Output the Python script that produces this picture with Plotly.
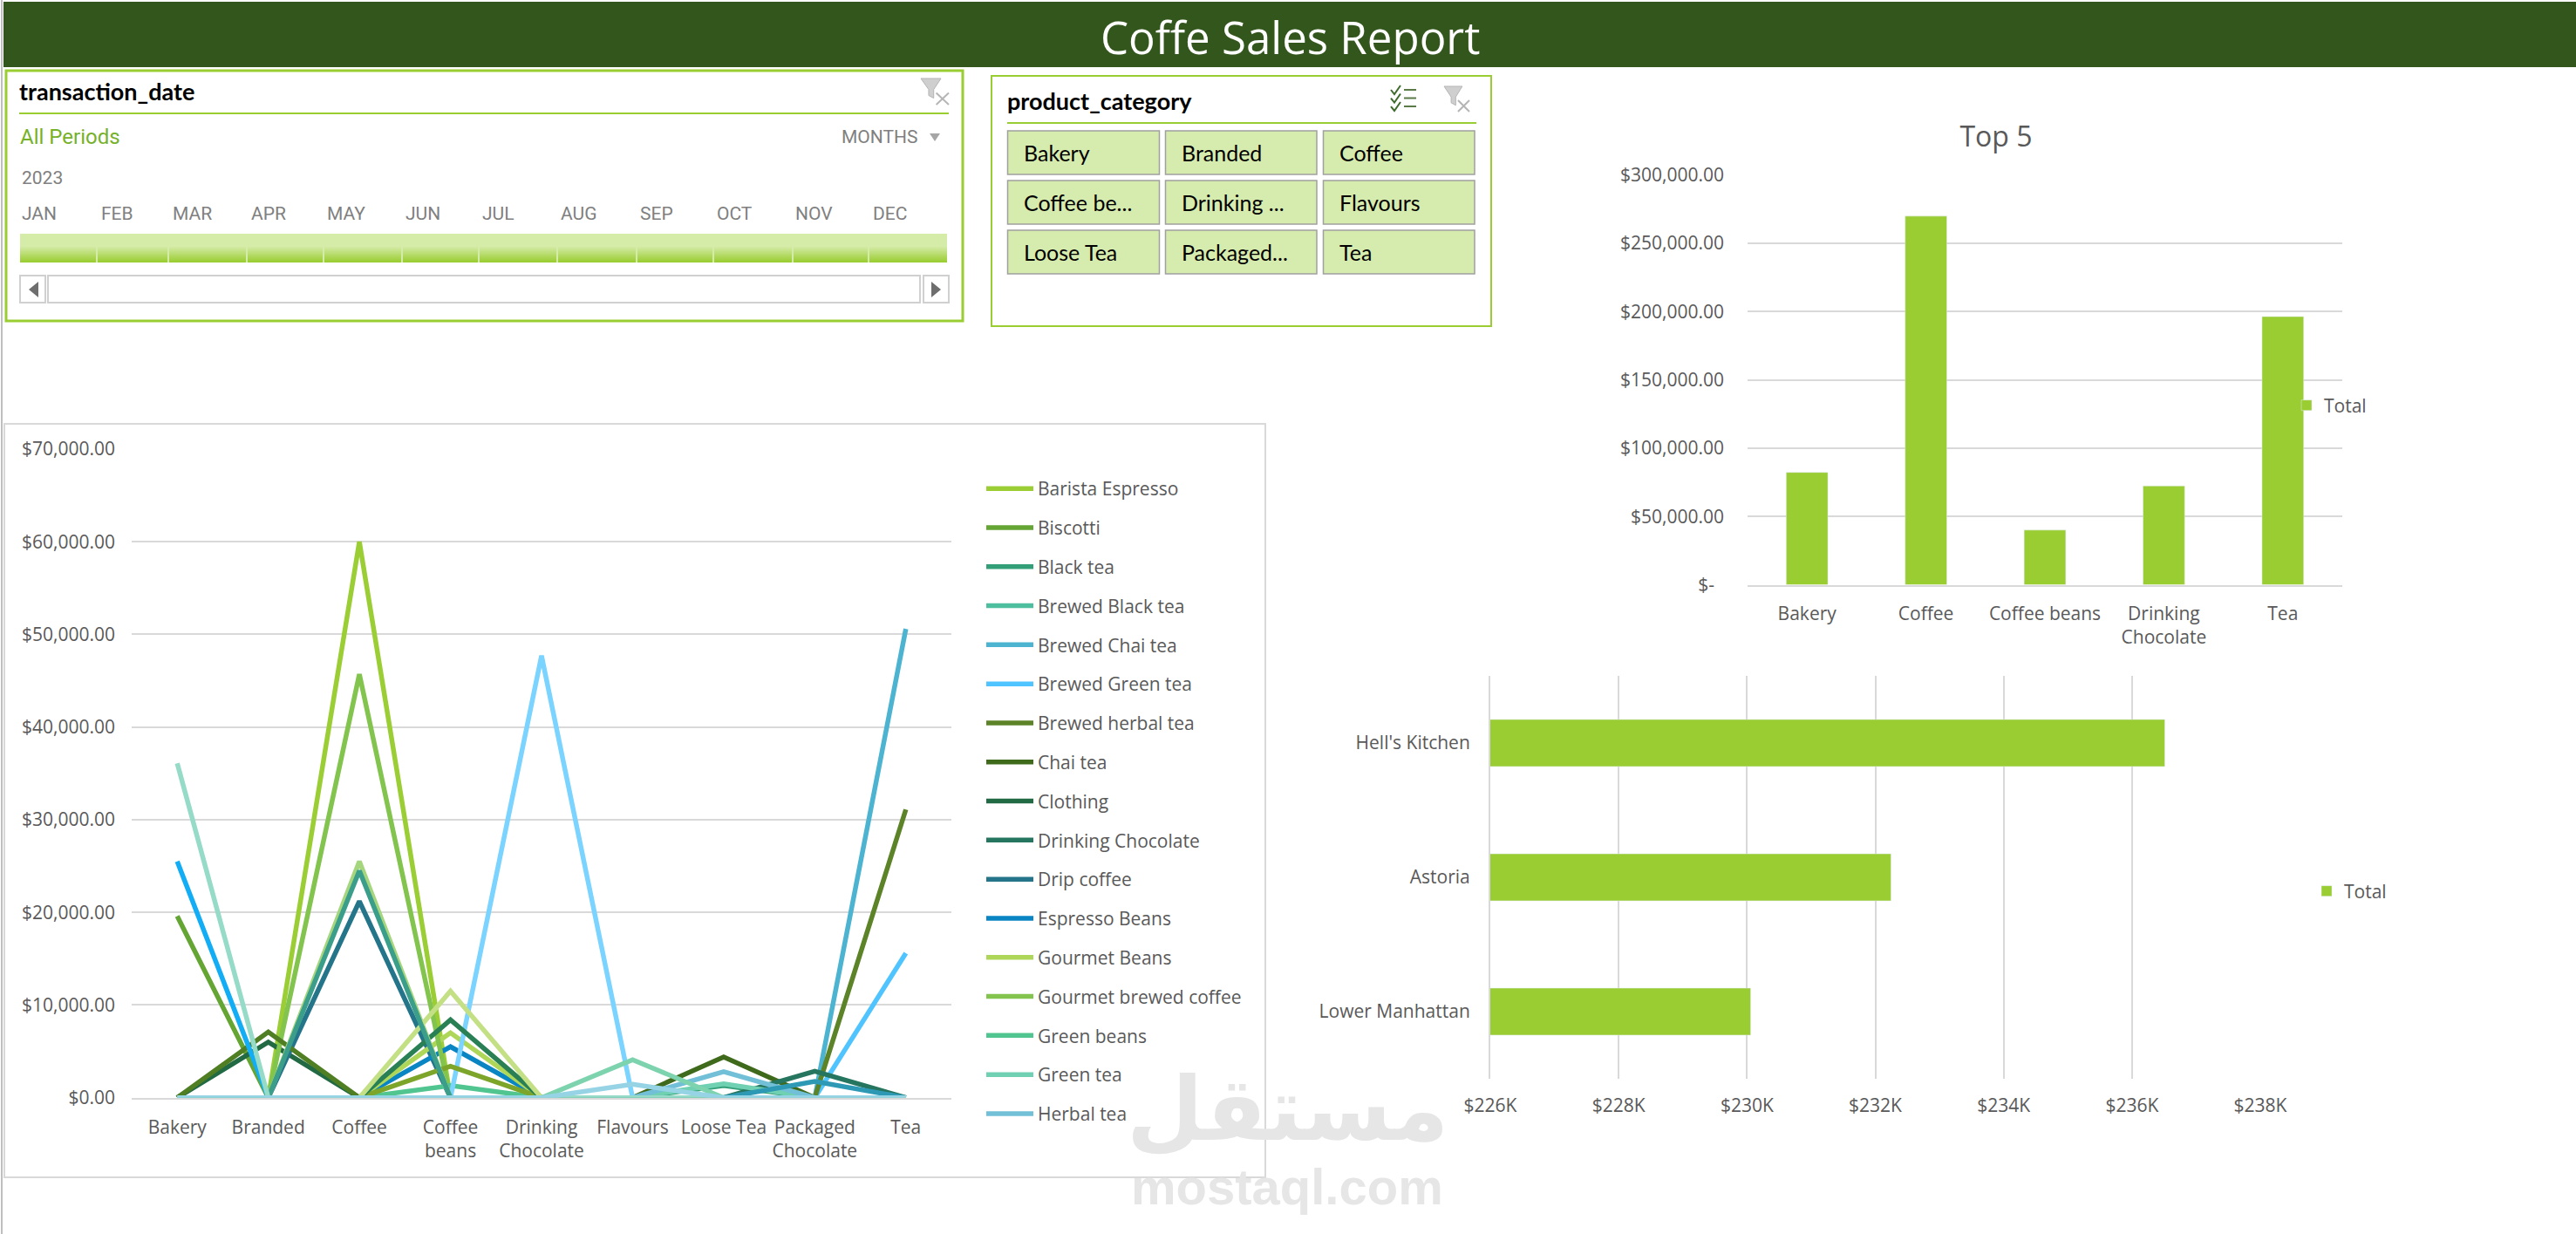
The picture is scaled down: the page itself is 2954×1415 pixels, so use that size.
import plotly.graph_objects as go

W, H = 2954, 1415

# ---------- data ----------
categories = ["Bakery", "Branded", "Coffee", "Coffee beans", "Drinking Chocolate",
              "Flavours", "Loose Tea", "Packaged Chocolate", "Tea"]
category_labels = ["Bakery", "Branded", "Coffee", "Coffee<br>beans", "Drinking<br>Chocolate",
                   "Flavours", "Loose Tea", "Packaged<br>Chocolate", "Tea"]

barista_espresso   = [0, 0, 60000, 0, 0, 0, 0, 0, 0]
biscotti           = [19600, 0, 0, 0, 0, 0, 0, 0, 0]
black_tea          = [0, 0, 0, 0, 0, 0, 1300, 0, 0]
brewed_black_tea   = [0, 0, 0, 0, 0, 0, 0, 0, 0]
brewed_chai_tea    = [0, 0, 0, 0, 0, 0, 0, 0, 50600]
brewed_green_tea   = [0, 0, 0, 0, 0, 0, 0, 0, 15600]
brewed_herbal_tea  = [0, 0, 0, 0, 0, 0, 0, 0, 31100]
chai_tea           = [0, 0, 0, 0, 0, 0, 4400, 0, 0]
clothing           = [0, 6000, 0, 0, 0, 0, 0, 0, 0]
drinking_chocolate = [0, 0, 0, 0, 0, 0, 0, 2850, 0]
drip_coffee        = [0, 0, 21200, 0, 0, 0, 0, 0, 0]
espresso_beans     = [0, 0, 0, 5500, 0, 0, 0, 0, 0]
gourmet_beans      = [0, 0, 0, 7000, 0, 0, 0, 0, 0]
gourmet_brewed     = [0, 0, 45700, 0, 0, 0, 0, 0, 0]
green_beans        = [0, 0, 0, 1300, 0, 0, 0, 0, 0]
green_tea          = [0, 0, 0, 0, 0, 0, 1500, 0, 0]
herbal_tea         = [0, 0, 0, 0, 0, 0, 2800, 0, 0]
hot_chocolate      = [0, 0, 0, 0, 47700, 0, 0, 0, 0]
house_blend_beans  = [0, 0, 0, 3400, 0, 0, 0, 0, 0]
housewares         = [0, 7100, 0, 0, 0, 0, 0, 0, 0]
organic_beans      = [0, 0, 0, 8400, 0, 0, 0, 0, 0]
organic_brewed     = [0, 0, 25500, 0, 0, 0, 0, 0, 0]
organic_chocolate  = [0, 0, 0, 0, 0, 0, 0, 1750, 0]
pastry             = [25500, 0, 0, 0, 0, 0, 0, 0, 0]
premium_beans      = [0, 0, 0, 11500, 0, 0, 0, 0, 0]
premium_brewed     = [0, 0, 24500, 0, 0, 0, 0, 0, 0]
regular_syrup      = [0, 0, 0, 0, 0, 4100, 0, 0, 0]
scone              = [36100, 0, 0, 0, 0, 0, 0, 0, 0]
sugar_free_syrup   = [0, 0, 0, 0, 0, 1450, 0, 0, 0]

series = [
    ("Barista Espresso", barista_espresso, "#9BCE35"),
    ("Biscotti", biscotti, "#64A533"),
    ("Black tea", black_tea, "#339F78"),
    ("Brewed Black tea", brewed_black_tea, "#4DBF9F"),
    ("Brewed Chai tea", brewed_chai_tea, "#4CB3D1"),
    ("Brewed Green tea", brewed_green_tea, "#50C4FF"),
    ("Brewed herbal tea", brewed_herbal_tea, "#5C8327"),
    ("Chai tea", chai_tea, "#3F6A1C"),
    ("Clothing", clothing, "#226A44"),
    ("Drinking Chocolate", drinking_chocolate, "#26755F"),
    ("Drip coffee", drip_coffee, "#24748A"),
    ("Espresso Beans", espresso_beans, "#0A85C4"),
    ("Gourmet Beans", gourmet_beans, "#AED75A"),
    ("Gourmet brewed coffee", gourmet_brewed, "#82C44D"),
    ("Green beans", green_beans, "#50C590"),
    ("Green tea", green_tea, "#6FD0B2"),
    ("Herbal tea", herbal_tea, "#72BFD8"),
    ("Hot chocolate", hot_chocolate, "#7BD3FF"),
    ("House blend Beans", house_blend_beans, "#7DA52A"),
    ("Housewares", housewares, "#4F7F22"),
    ("Organic Beans", organic_beans, "#2A8055"),
    ("Organic brewed coffee", organic_brewed, "#A5D67E"),
    ("Organic Chocolate", organic_chocolate, "#2E99B5"),
    ("Pastry", pastry, "#12ADF5"),
    ("Premium Beans", premium_beans, "#C4E085"),
    ("Premium brewed coffee", premium_brewed, "#3A9E8B"),
    ("Regular syrup", regular_syrup, "#7DD3AE"),
    ("Scone", scone, "#96DBC7"),
    ("Sugar free syrup", sugar_free_syrup, "#96D3E5"),
]
legend_visible = 17

line_ticks = [0, 10000, 20000, 30000, 40000, 50000, 60000, 70000]

top5_categories = ["Bakery", "Coffee", "Coffee beans", "Drinking Chocolate", "Tea"]
top5_labels = ["Bakery", "Coffee", "Coffee beans", "Drinking<br>Chocolate", "Tea"]
top5_values = [82316, 269952, 40085, 72416, 196406]
top5_ticks = [0, 50000, 100000, 150000, 200000, 250000, 300000]
top5_ticktext = ["$-\u00a0\u00a0", "$50,000.00", "$100,000.00", "$150,000.00",
                 "$200,000.00", "$250,000.00", "$300,000.00"]

store_names = ["Lower Manhattan", "Astoria", "Hell's Kitchen"]
store_values = [230057, 232244, 236511]
store_ticks = [226000, 228000, 230000, 232000, 234000, 236000, 238000]
store_ticktext = ["$226K", "$228K", "$230K", "$232K", "$234K", "$236K", "$238K"]

months = ["JAN", "FEB", "MAR", "APR", "MAY", "JUN", "JUL", "AUG", "SEP", "OCT", "NOV", "DEC"]
slicer_buttons = ["Bakery", "Branded", "Coffee", "Coffee be...", "Drinking ...", "Flavours",
                  "Loose Tea", "Packaged...", "Tea"]

# ---------- helpers ----------
GREEN = "#9ACD32"
GRID = "#D9D9D9"
TEXT = "#595959"
UI = "Open Sans"
SL = "Lato"
MON = "Roboto"

def X(p): return p / W
def Y(p): return 1 - p / H

shapes, annotations = [], []

def rect(x0, y0, x1, y1, fill=None, line=None, lw=0):
    shapes.append(dict(type="rect", xref="paper", yref="paper",
                       x0=X(x0), x1=X(x1), y0=Y(y1), y1=Y(y0),
                       fillcolor=fill if fill else "rgba(0,0,0,0)",
                       line=dict(color=line if line else "rgba(0,0,0,0)", width=lw)))

def seg(x0, y0, x1, y1, color, lw=1):
    shapes.append(dict(type="line", xref="paper", yref="paper",
                       x0=X(x0), x1=X(x1), y0=Y(y0), y1=Y(y1),
                       line=dict(color=color, width=lw)))

def poly(points, fill=None, line=None, lw=1, close=True):
    d = "M" + " L".join(f"{X(a):.5f},{Y(b):.5f}" for a, b in points) + (" Z" if close else "")
    shapes.append(dict(type="path", xref="paper", yref="paper", path=d,
                       fillcolor=fill if fill else "rgba(0,0,0,0)",
                       line=dict(color=line if line else "rgba(0,0,0,0)", width=lw)))

def label(x, y, text, size, color="#000000", family=SL, anchor="left", bold=False):
    t = f"<b>{text}</b>" if bold else text
    annotations.append(dict(xref="paper", yref="paper", x=X(x), y=Y(y), text=t, showarrow=False,
                            xanchor=anchor, yanchor="middle", align=anchor,
                            font=dict(size=size, color=color, family=family),
                            borderpad=0, borderwidth=0))

def lerp(c0, c1, t):
    a = [int(c0[i:i+2], 16) for i in (1, 3, 5)]
    b = [int(c1[i:i+2], 16) for i in (1, 3, 5)]
    return "#" + "".join(f"{round(u + (v - u) * t):02X}" for u, v in zip(a, b))

def clear_filter_icon(x0, y0, w, h):
    poly([(x0, y0), (x0 + w * .72, y0), (x0 + w * .46, y0 + h * .42), (x0 + w * .46, y0 + h * .75),
          (x0 + w * .28, y0 + h * .65), (x0 + w * .28, y0 + h * .42)], fill="#CFCFCF", line="#B5B5B5", lw=1)
    seg(x0 + w * .55, y0 + h * .55, x0 + w, y0 + h, "#B5B5B5", 2)
    seg(x0 + w, y0 + h * .55, x0 + w * .55, y0 + h, "#B5B5B5", 2)

# ---------- header and sheet edges ----------
seg(2, 0, 2, H, "#BFBFBF", 2)
rect(4, 2, W, 77, fill="#33561C")
label(1479, 42, "Coffe Sales Report", 51, "#FFFFFF", UI, "center")

# ---------- timeline slicer ----------
rect(7, 81, 1104, 368, line=GREEN, lw=3)
label(22, 105, "transaction_date", 27, "#000000", SL, bold=True)
seg(22, 130, 1088, 130, GREEN, 2)
clear_filter_icon(1056, 90, 32, 30)
label(23, 157, "All Periods", 24, "#76B12A", MON)
label(965, 157, "MONTHS", 21, "#808080", MON)
poly([(1066, 153), (1078, 153), (1072, 162)], fill="#A6A6A6")
label(25, 204, "2023", 21, "#808080", MON)
month_left = [25, 116, 198, 288, 375, 465, 553, 643, 734, 822, 912, 1001]
for m, xp in zip(months, month_left):
    label(xp, 245, m, 21, "#808080", MON)
rect(23, 268, 1086, 283, fill="#D5EBA8")
for i in range(18):
    rect(23, 283 + i, 1086, 284 + i, fill=lerp("#D5EBA8", GREEN, (i + 1) / 18))
for xp in [111, 193, 283, 371, 461, 549, 639, 730, 818, 909, 996]:
    seg(xp, 268, xp, 301, "#D5EBA8", 2)
rect(23, 316, 52, 347, fill="#FFFFFF", line="#D0D0D0", lw=2)
rect(55, 316, 1055, 347, fill="#FFFFFF", line="#D0D0D0", lw=2)
rect(1059, 316, 1088, 347, fill="#FFFFFF", line="#D0D0D0", lw=2)
poly([(44, 323), (44, 341), (33, 332)], fill="#6E6E6E")
poly([(1068, 323), (1068, 341), (1079, 332)], fill="#6E6E6E")

# ---------- category slicer ----------
rect(1137, 87, 1710, 374, line=GREEN, lw=2)
label(1155, 116, "product_category", 27, "#000000", SL, bold=True)
seg(1155, 141, 1693, 141, GREEN, 2)
for k in range(3):
    yy = 103 + k * 9.5
    poly([(1595, yy), (1599, yy + 5), (1606, yy - 5)], line="#3F6A2C", lw=2, close=False)
    seg(1610, yy, 1624, yy, "#5A7A48", 2)
clear_filter_icon(1656, 99, 29, 29)
btn_x = [(1155.5, 1329.5), (1336.5, 1510), (1517.5, 1691)]
btn_y = [(150, 200), (207, 257), (264, 314)]
for i, t in enumerate(slicer_buttons):
    x0, x1 = btn_x[i % 3]
    y0, y1 = btn_y[i // 3]
    rect(x0, y0, x1, y1, fill="#D6EBAE", line="#A0A0A0", lw=1.5)
    label(x0 + 18, (y0 + y1) / 2, t, 25, "#000000", SL)

# ---------- panel of the line chart ----------
rect(5, 486, 1451, 1350, line=GRID, lw=2)

# ---------- figure ----------
fig = go.Figure()
for i, (name, vals, col) in enumerate(series):
    fig.add_trace(go.Scatter(x=categories, y=vals, name=name, mode="lines",
                             line=dict(color=col, width=5.5, shape="linear"),
                             cliponaxis=False, legendgroup=name,
                             showlegend=i < legend_visible,
                             xaxis="x", yaxis="y", legend="legend"))

fig.add_trace(go.Bar(x=top5_categories, y=top5_values, name="Total", marker_color=GREEN,
                     xaxis="x2", yaxis="y2", legend="legend2"))
fig.add_trace(go.Bar(x=store_values, y=store_names, name="Total", orientation="h", marker_color=GREEN,
                     xaxis="x3", yaxis="y3", legend="legend3"))

tick_font = dict(size=21, color=TEXT, family=UI)
legend_font = dict(size=21, color=TEXT, family=UI)

fig.update_layout(
    width=W, height=H, autosize=False,
    margin=dict(l=0, r=0, t=0, b=0, pad=0),
    paper_bgcolor="#FFFFFF", plot_bgcolor="rgba(0,0,0,0)",
    bargap=0.65,
    font=dict(family=UI, color=TEXT),
    shapes=shapes,
    annotations=annotations,
    xaxis=dict(domain=[X(151), X(1091)], anchor="y", type="category", automargin=False,
               categoryorder="array", categoryarray=categories,
               range=[-0.5, 8.5], tickmode="array", tickvals=categories, ticktext=category_labels,
               tickangle=0, tickfont=tick_font, showgrid=False, zeroline=False,
               showline=True, linecolor=GRID, linewidth=2, ticks="", ticklabelstandoff=14),
    yaxis=dict(domain=[Y(1258.7), Y(515)], anchor="x", range=[0, 70000], automargin=False,
               tickmode="array", tickvals=line_ticks, tickformat="$,.2f",
               tickfont=tick_font, showgrid=True, gridcolor=GRID, gridwidth=2,
               zeroline=False, showline=False, ticks="", ticklabelstandoff=18),
    xaxis2=dict(domain=[X(2004), X(2686)], anchor="y2", type="category", automargin=False,
                categoryorder="array", categoryarray=top5_categories,
                tickmode="array", tickvals=top5_categories, ticktext=top5_labels, tickangle=0,
                tickfont=tick_font, showgrid=False, zeroline=False,
                showline=True, linecolor=GRID, linewidth=2, ticks="", ticklabelstandoff=13),
    yaxis2=dict(domain=[Y(670.6), Y(200.8)], anchor="x2", range=[0, 300000], automargin=False,
                tickmode="array", tickvals=top5_ticks, ticktext=top5_ticktext,
                tickfont=tick_font, showgrid=True, gridcolor=GRID, gridwidth=2,
                zeroline=False, showline=False, ticks="", ticklabelstandoff=26),
    xaxis3=dict(domain=[X(1709), X(2592)], anchor="y3", range=[226000, 238000], automargin=False,
                tickmode="array", tickvals=store_ticks, ticktext=store_ticktext, tickangle=0,
                tickfont=tick_font, showgrid=True, gridcolor=GRID, gridwidth=2,
                zeroline=False, showline=False, ticks="", ticklabelstandoff=16),
    yaxis3=dict(domain=[Y(1237), Y(775)], anchor="x3", type="category", automargin=False,
                categoryorder="array", categoryarray=store_names,
                tickfont=tick_font, showgrid=False, zeroline=False,
                showline=True, linecolor=GRID, linewidth=2, ticks="", ticklabelstandoff=17),
    legend=dict(x=X(1126), y=Y(540), xanchor="left", yanchor="top", font=legend_font,
                bgcolor="rgba(0,0,0,0)", itemwidth=54, tracegroupgap=14.5, traceorder="grouped",
                itemclick=False, itemdoubleclick=False, borderwidth=0),
    legend2=dict(x=X(2625), y=Y(465), xanchor="left", yanchor="middle", font=legend_font,
                 bgcolor="rgba(0,0,0,0)", itemwidth=30),
    legend3=dict(x=X(2648), y=Y(1022), xanchor="left", yanchor="middle", font=legend_font,
                 bgcolor="rgba(0,0,0,0)", itemwidth=30),
    title=dict(text="Top 5", x=X(2289), xanchor="center", xref="paper",
               y=Y(157), yanchor="middle", yref="paper", automargin=False,
               font=dict(size=32, color=TEXT, family=UI)),
)

# watermark
fig.add_annotation(xref="paper", yref="paper", x=X(1476), y=Y(1272), text="<b>مستقل</b>", showarrow=False,
                   xanchor="center", yanchor="middle",
                   font=dict(size=101, color="#E6E6E6", family="DejaVu Sans"))
fig.add_annotation(xref="paper", yref="paper", x=X(1476), y=Y(1360), text="<b>mostaql.com</b>", showarrow=False,
                   xanchor="center", yanchor="middle",
                   font=dict(size=58, color="#E6E6E6", family="Liberation Sans"))

fig.write_html("out.html", post_script="document.body.style.margin='0';document.body.style.overflow='hidden';",
               config={"displayModeBar": False})
